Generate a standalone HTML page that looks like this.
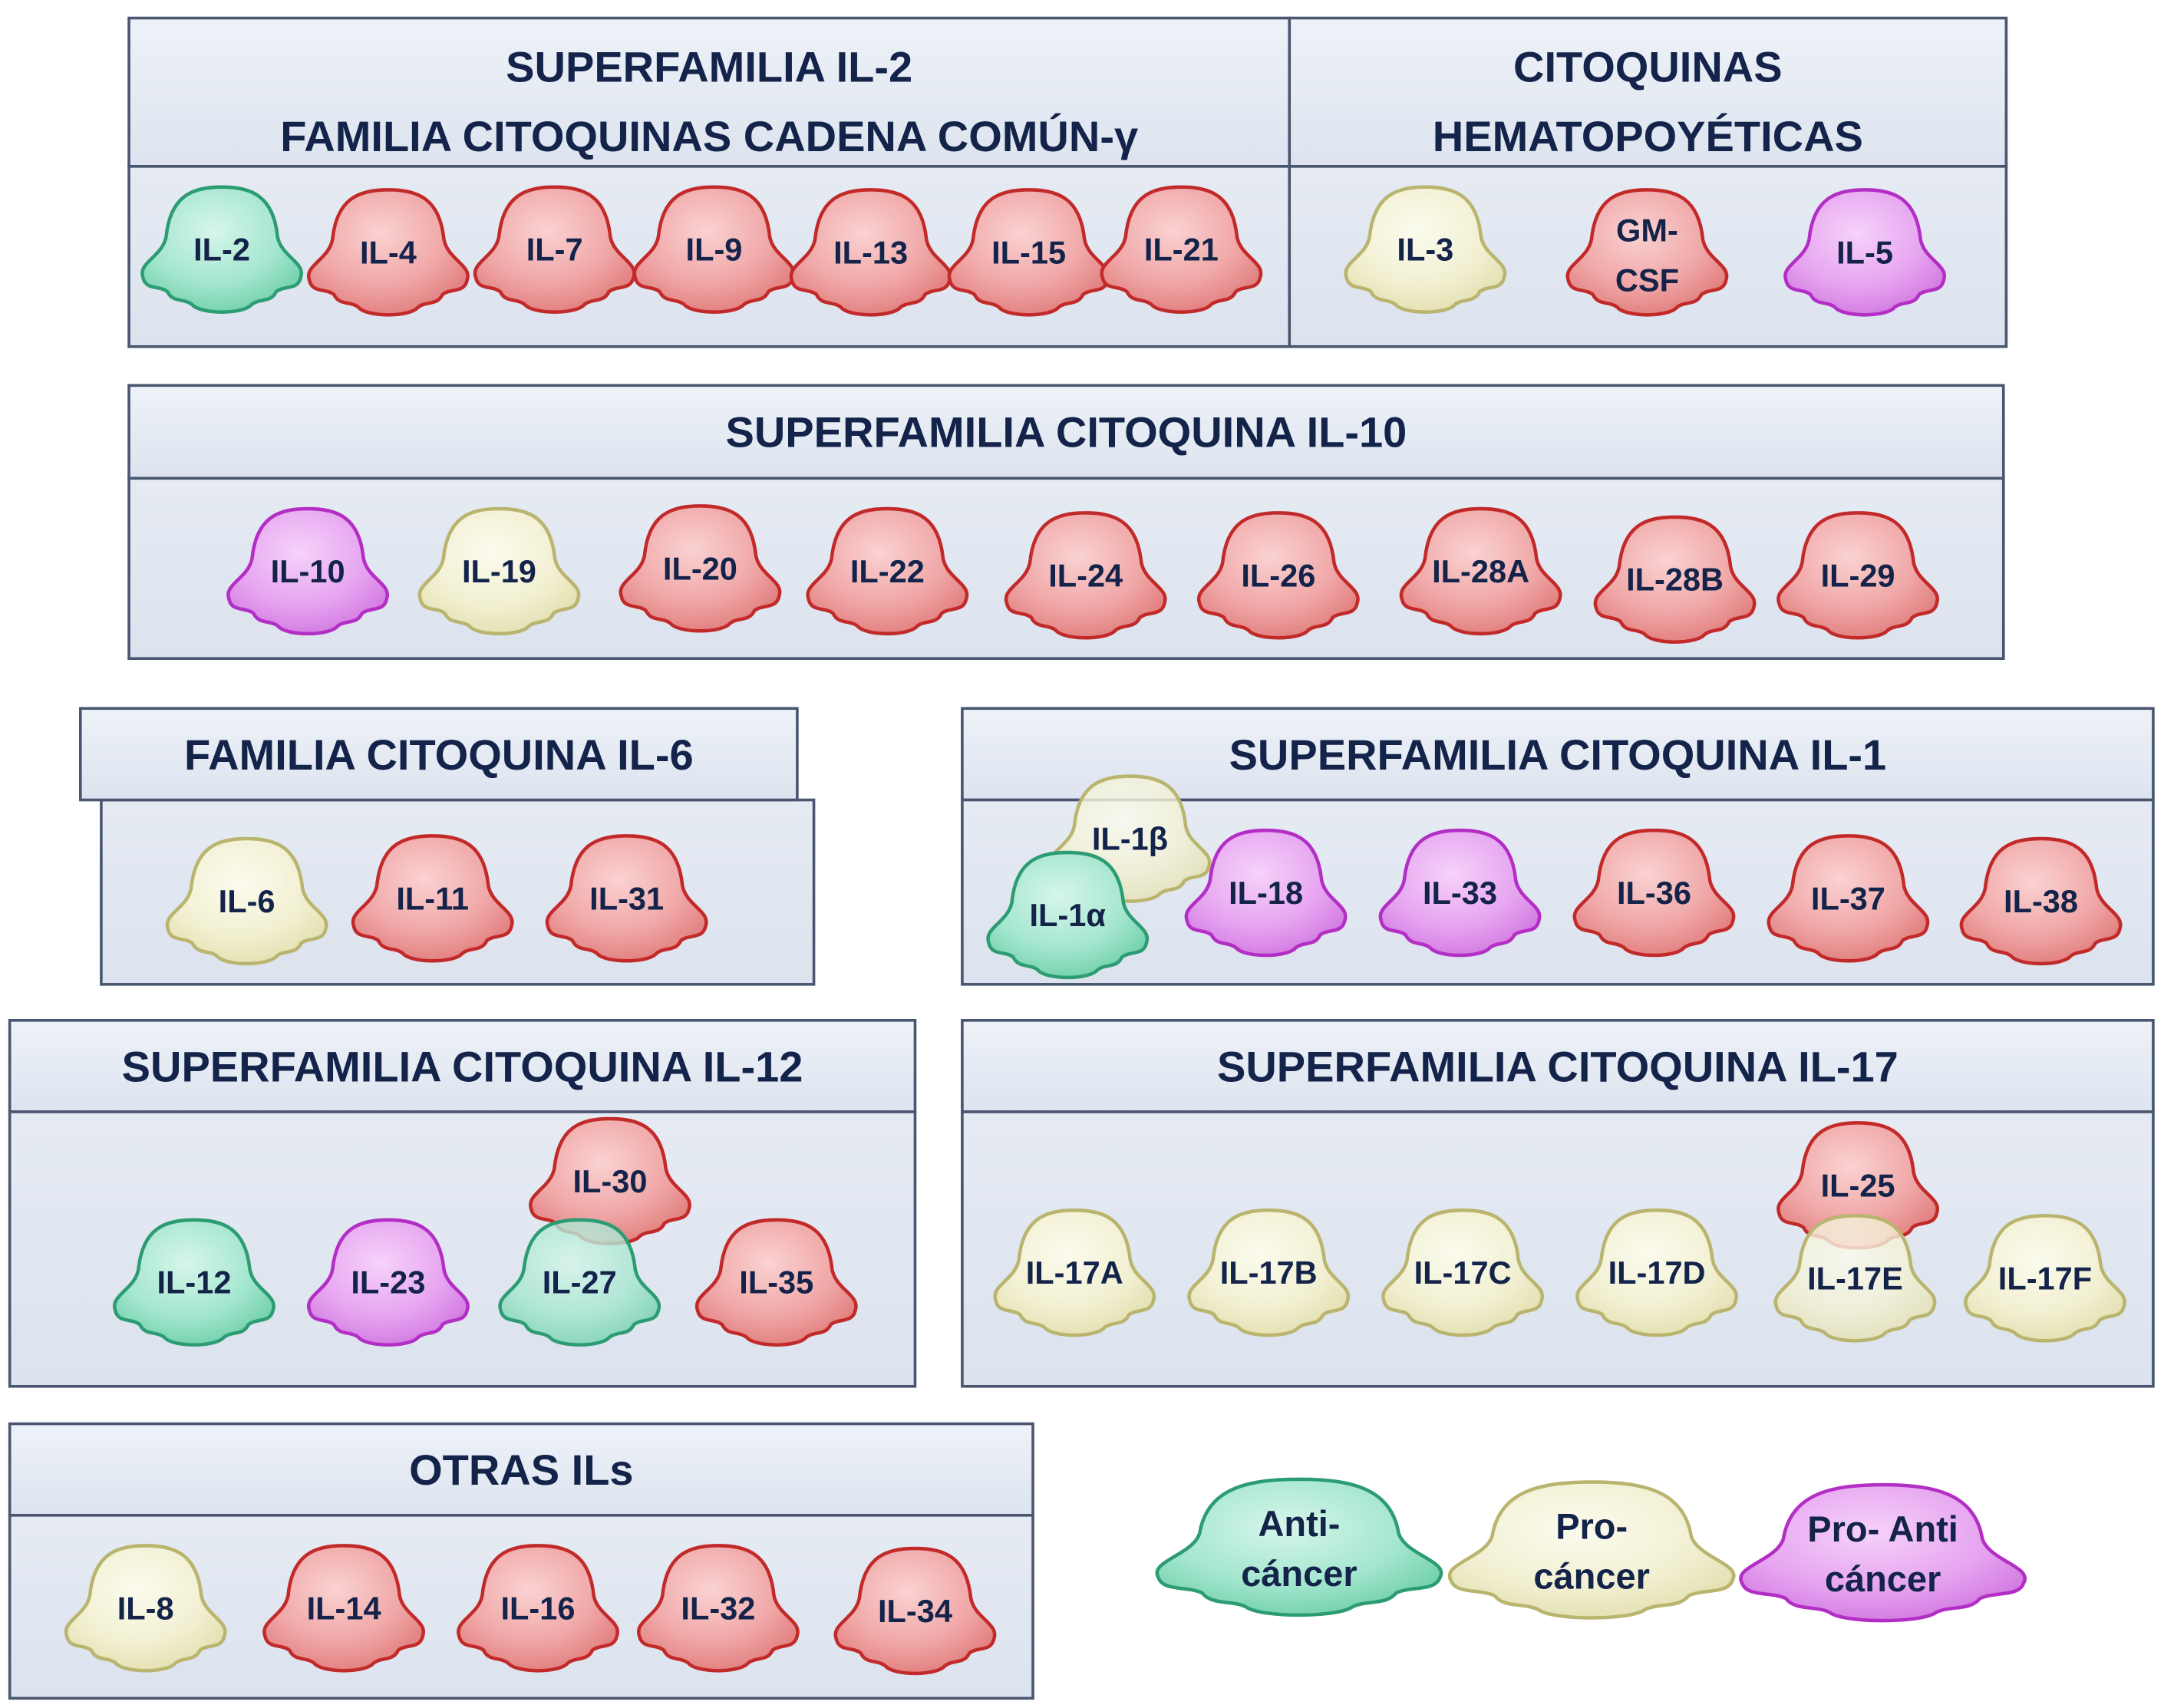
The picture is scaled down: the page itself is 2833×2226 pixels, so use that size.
<!DOCTYPE html>
<html><head><meta charset="utf-8"><style>
html,body{margin:0;padding:0;background:#fff;}
svg{display:block;}
text{font-family:"Liberation Sans","DejaVu Sans",sans-serif;font-weight:bold;fill:#14234a;}
</style></head><body>
<svg id="fig" width="2833" height="2226" viewBox="0 0 1568 1232" xmlns="http://www.w3.org/2000/svg">
<defs>
<linearGradient id="hdr" x1="0" y1="0" x2="0" y2="1"><stop offset="0" stop-color="#eef2f8"/><stop offset="1" stop-color="#dde4ef"/></linearGradient>
<linearGradient id="bod" x1="0" y1="0" x2="0" y2="1"><stop offset="0" stop-color="#e6ebf3"/><stop offset="1" stop-color="#dce3ee"/></linearGradient>
<radialGradient id="g-r" cx="0.45" cy="0.35" r="0.7"><stop offset="0" stop-color="#fad2d2"/><stop offset="0.6" stop-color="#f0a6a6"/><stop offset="1" stop-color="#e07a7a"/></radialGradient>
<radialGradient id="g-g" cx="0.45" cy="0.35" r="0.7"><stop offset="0" stop-color="#d6f6ea"/><stop offset="0.6" stop-color="#a4e6cf"/><stop offset="1" stop-color="#6ccfa8"/></radialGradient>
<radialGradient id="g-y" cx="0.45" cy="0.35" r="0.7"><stop offset="0" stop-color="#fbfbee"/><stop offset="0.6" stop-color="#f2f0d2"/><stop offset="1" stop-color="#e2dfae"/></radialGradient>
<radialGradient id="g-m" cx="0.45" cy="0.35" r="0.7"><stop offset="0" stop-color="#f6d2fa"/><stop offset="0.6" stop-color="#e6a4f0"/><stop offset="1" stop-color="#d076e0"/></radialGradient>
</defs>
<g id="boxes"></g>
<g id="blobs"></g>
</svg>
<script>
const NS='http://www.w3.org/2000/svg';
const boxNames=['box-il2','box-hemato','box-il10','box-il6','box-il1','box-il12','box-il17','box-otras'];
const boxRects=[[93,13,837,107,130],[930,13,517,107,130],[93,278,1352,67,130],[58,511,517,66,0],[694,511,859,66,133],[7,736,653,66,198],[694,736,859,66,198],[7,1027,738,66,132]];
const boxTitles=[['SUPERFAMILIA IL-2','FAMILIA CITOQUINAS CADENA COMÚN-γ'],['CITOQUINAS','HEMATOPOYÉTICAS'],['SUPERFAMILIA CITOQUINA IL-10'],['FAMILIA CITOQUINA IL-6'],['SUPERFAMILIA CITOQUINA IL-1'],['SUPERFAMILIA CITOQUINA IL-12'],['SUPERFAMILIA CITOQUINA IL-17'],['OTRAS ILs']];
const labels=['IL-2','IL-4','IL-7','IL-9','IL-13','IL-15','IL-21','IL-3','GM-|CSF','IL-5',
'IL-10','IL-19','IL-20','IL-22','IL-24','IL-26','IL-28A','IL-28B','IL-29',
'IL-6','IL-11','IL-31',
'IL-18','IL-33','IL-36','IL-37','IL-38','IL-1β','IL-1α',
'IL-30','IL-12','IL-23','IL-27','IL-35',
'IL-17A','IL-17B','IL-17C','IL-17D','IL-25','IL-17E','IL-17F',
'IL-8','IL-14','IL-16','IL-32','IL-34',
'Anti-|cáncer','Pro-|cáncer','Pro- Anti|cáncer'];
const kinds=['g','r','r','r','r','r','r','y','r','m',
'm','y','r','r','r','r','r','r','r',
'y','r','r',
'm','m','r','r','r','y','g',
'r','g','m','g','r',
'y','y','y','y','r','y','y',
'y','r','r','r','r',
'g','y','m'];
const cx=[160,280,400,515,628,742,852,1028,1188,1345,
222,360,505,640,783,922,1068,1208,1340,
178,312,452,
913,1053,1193,1333,1472,815,770,
440,140,280,418,560,
775,915,1055,1195,1340,1338,1475,
105,248,388,518,660,
937,1148,1358];
const cy=[180,182,180,180,182,182,180,180,182,182,
412,412,410,412,415,415,412,418,415,
650,648,648,
644,644,644,648,650,605,660,
852,925,925,925,925,
918,918,918,918,855,922,922,
1160,1160,1160,1160,1162,
1116,1118,1120];
const stroke={r:'#c22a2a',g:'#2c9c72',y:'#b9b46e',m:'#b22ec4'};
const boxG=document.getElementById('boxes');
boxRects.forEach((b,i)=>{
  const [x,y,w,hh,bh]=b;
  const g=document.createElementNS(NS,'g');
  
  
  if(i===3){
    const body=document.createElementNS(NS,'rect');
    body.setAttribute('x',73);body.setAttribute('y',577);body.setAttribute('width',514);body.setAttribute('height',133);
    body.setAttribute('fill','url(#bod)');body.setAttribute('stroke','#4a5670');body.setAttribute('stroke-width','2');
    g.appendChild(body);
  }
  const h=document.createElementNS(NS,'rect');
  h.setAttribute('x',x);h.setAttribute('y',y);h.setAttribute('width',w);h.setAttribute('height',hh);
  h.setAttribute('fill','url(#hdr)');h.setAttribute('stroke','#4a5670');h.setAttribute('stroke-width','2');
  g.appendChild(h);
  if(bh>0){
    const r=document.createElementNS(NS,'rect');
    r.setAttribute('x',x);r.setAttribute('y',y+hh);r.setAttribute('width',w);r.setAttribute('height',bh);
    r.setAttribute('fill','url(#bod)');r.setAttribute('stroke','#4a5670');r.setAttribute('stroke-width','2');
    g.appendChild(r);
  }
  const lines=boxTitles[i];
  lines.forEach((ln,j)=>{
    const t=document.createElementNS(NS,'text');
    
    
    t.setAttribute('x',x+w/2);
    const base=lines.length===1? y+hh/2+11 : y+46+j*50;
    t.setAttribute('y',base);
    t.setAttribute('text-anchor','middle');
    t.setAttribute('font-size','31');
    t.textContent=ln;
    g.appendChild(t);
  });
  boxG.appendChild(g);
});
const blobPath='M -58,22 C -62,10 -44,6 -41,-10 C -38,-42 -22,-49 0,-49 C 22,-49 38,-42 41,-10 C 44,6 62,10 58,22 C 56,32 46,28 40,33 C 36,42 28,38 22,43 C 16,51 -16,51 -22,43 C -28,38 -36,42 -40,33 C -46,28 -56,32 -58,22 Z';
const blobG=document.getElementById('blobs');
labels.forEach((lab,i)=>{
  const k=kinds[i];
  const legend=i>=labels.length-3;
  const g=document.createElementNS(NS,'g');
  
  
  const sx=legend?1.75:0.98, sy=legend?1.0:0.92;
  const p=document.createElementNS(NS,'path');
  p.setAttribute('d',blobPath);
  p.setAttribute('transform','translate('+cx[i]+','+cy[i]+') scale('+sx+','+sy+')');
  p.setAttribute('fill','url(#g-'+k+')');
  p.setAttribute('fill-opacity',(lab==='IL-1β'||lab==='IL-17E'||lab==='IL-27')?'0.8':'1');
  p.setAttribute('stroke',stroke[k]);
  p.setAttribute('stroke-width','4.5');
  p.setAttribute('vector-effect','non-scaling-stroke');
  g.appendChild(p);
  const parts=lab.split('|');
  parts.forEach((s,j)=>{
    const t=document.createElementNS(NS,'text');
    
    
    t.setAttribute('x',cx[i]);
    const off=parts.length===1?8:(j===0?-8:28);
    t.setAttribute('y',cy[i]+off);
    t.setAttribute('text-anchor','middle');
    t.setAttribute('font-size',legend?'26':'23');
    t.textContent=s;
    g.appendChild(t);
  });
  blobG.appendChild(g);
});
</script>
</body></html>
